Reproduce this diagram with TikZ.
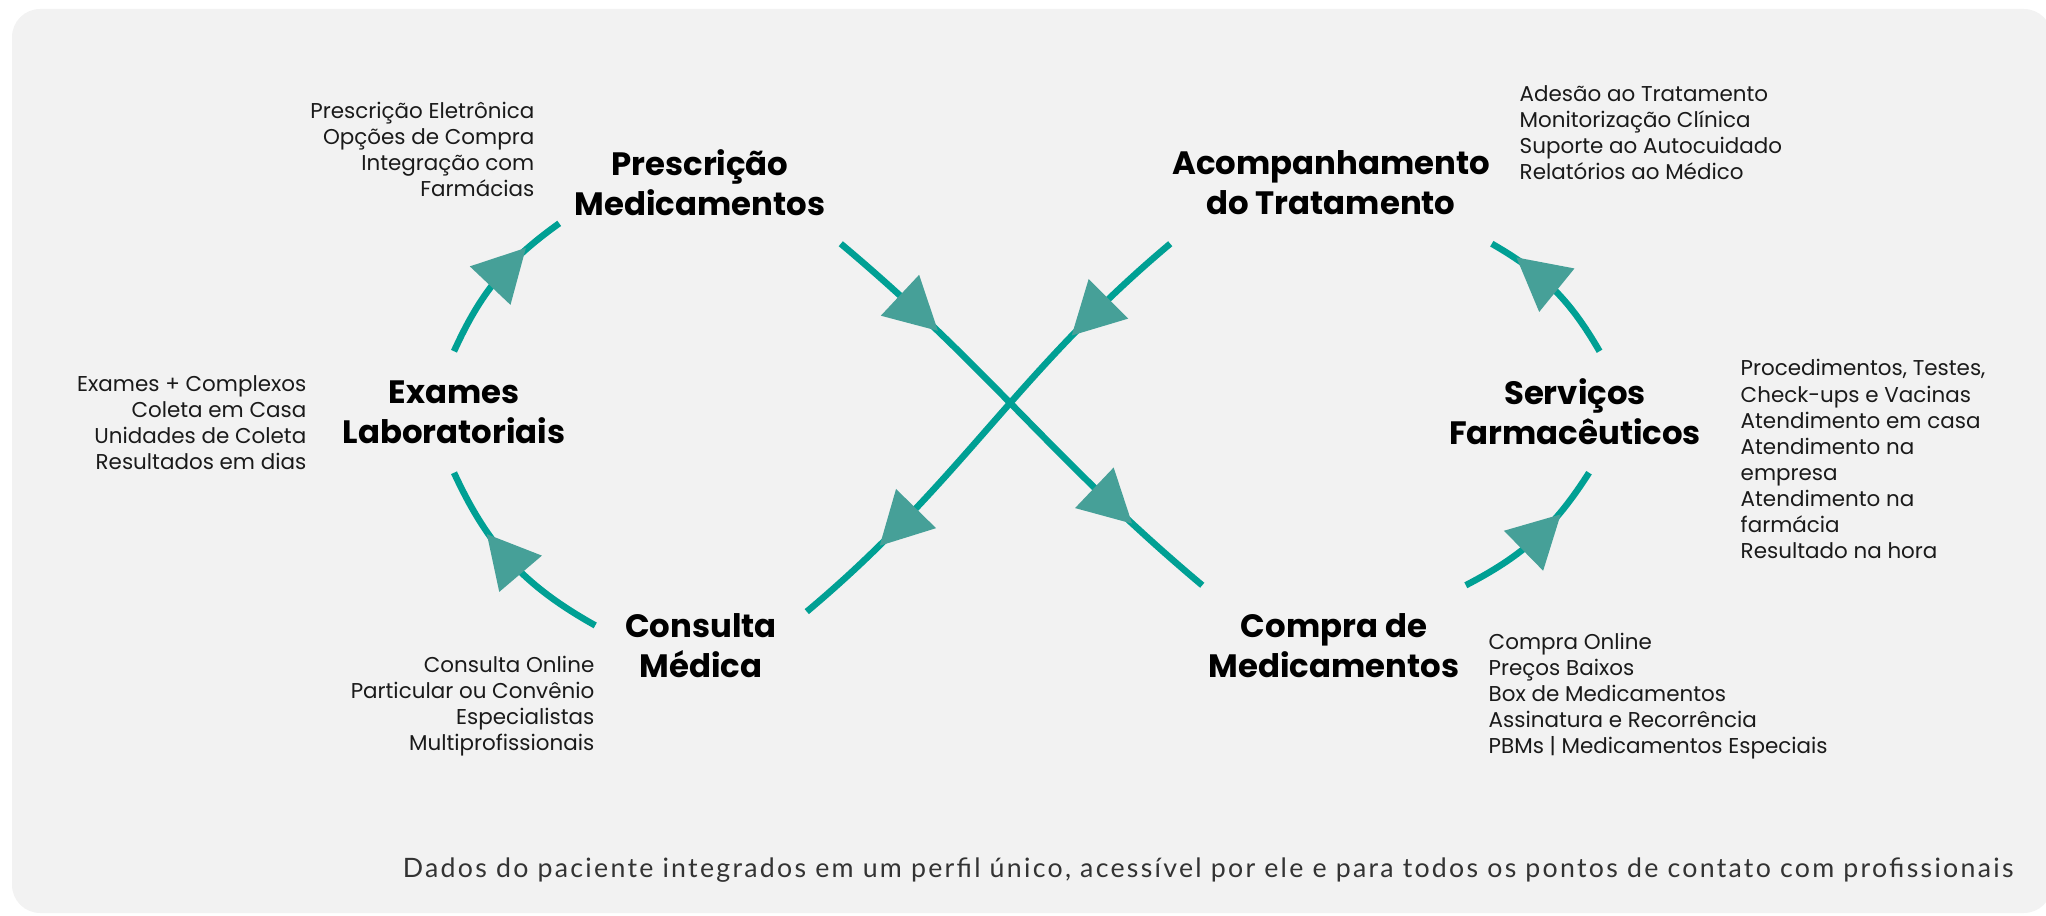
\documentclass[tikz,border=0pt]{standalone}
\usepackage{fontspec}
\setmainfont{Poppins}
\newfontfamily\footfont[LetterSpace=8.5]{Lato}
\usetikzlibrary{decorations.markings}
\definecolor{bgcol}{RGB}{242,242,242}
\definecolor{linecol}{RGB}{0,160,148}
\definecolor{arrowcol}{RGB}{70,160,152}
\definecolor{itemcol}{RGB}{26,26,26}
\definecolor{footcol}{RGB}{51,51,51}

\begin{document}
\begin{tikzpicture}[x=0.01cm,y=0.01cm,
  stage/.style={rectangle,inner sep=0,minimum height=1.2cm,align=center,font=\fontsize{9.2}{11.4}\selectfont\bfseries},
  itemlist/.style={inner sep=0,text=itemcol,font=\fontsize{6.1}{7.4}\selectfont},
  flowline/.style={draw=linecol,line width=1.85pt},
  tri/.style={postaction={decorate,decoration={markings,mark=at position #1 with {\fill[arrowcol] (26,0) -- (-26,28) -- (-26,-28) -- cycle;}}}}]
\useasboundingbox (0,0) rectangle (2046,915);
\fill[bgcol,rounded corners=8pt] (12,2) rectangle (2052,906);

% stages
\node[stage,minimum width=2.8cm] (presc) at (700,732) {Prescrição\\Medicamentos};
\node[stage,minimum width=3.2cm] (acomp) at (1331,732) {Acompanhamento\\do Tratamento};
\node[stage,minimum width=2.4cm] (exames) at (454,503) {Exames\\Laboratoriais};
\node[stage,minimum width=2.6cm] (servicos) at (1575,503) {Serviços\\Farmacêuticos};
\node[stage,minimum width=2.1cm] (consulta) at (701,269) {Consulta\\Médica};
\node[stage,minimum width=2.62cm] (compra) at (1334,269) {Compra de\\Medicamentos};

% lists
\node[itemlist,align=right,anchor=east] (presc-list) at (535,766) {Prescrição Eletrônica\\Opções de Compra\\Integração com\\Farmácias};
\node[itemlist,align=right,anchor=east] (exames-list) at (307,492) {Exames + Complexos\\Coleta em Casa\\Unidades de Coleta\\Resultados em dias};
\node[itemlist,align=right,anchor=east] (consulta-list) at (595,209) {Consulta Online\\Particular ou Convênio\\Especialistas\\Multiprofissionais};
\node[itemlist,align=left,anchor=west] (acomp-list) at (1519,782) {Adesão ao Tratamento\\Monitorização Clínica\\Suporte ao Autocuidado\\Relatórios ao Médico};
\node[itemlist,align=left,anchor=west] (servicos-list) at (1740,456) {Procedimentos, Testes,\\Check-ups e Vacinas\\Atendimento em casa\\Atendimento na\\empresa\\Atendimento na\\farmácia\\Resultado na hora};
\node[itemlist,align=left,anchor=west] (compra-list) at (1488,219) {Compra Online\\Preços Baixos\\Box de Medicamentos\\Assinatura e Recorrência\\PBMs | Medicamentos Especiais};

\node[inner sep=0,anchor=east,text=footcol,font=\footfont\fontsize{7.6}{9}\selectfont] (footer) at (2014,45) {Dados do paciente integrados em um perfil único, acessível por ele e para todos os pontos de contato com profissionais};

% flow
\draw[flowline,tri=0.55] (consulta.169) to[bend left=18] (exames.south);
\draw[flowline,tri=0.6] (exames.north) to[bend left=15] (presc.196);
\draw[flowline,tri=0.21,tri=0.76] (presc.south east) to[out=-40,in=140] (compra.north west);
\draw[flowline,tri=0.55] (compra.north east) to[bend right=15] (servicos.-77);
\draw[flowline,tri=0.65] (servicos.68) to[bend right=15] (acomp.south east);
\draw[flowline,tri=0.21,tri=0.76] (acomp.south west) to[out=-140,in=40] (consulta.18);
\end{tikzpicture}
\end{document}
